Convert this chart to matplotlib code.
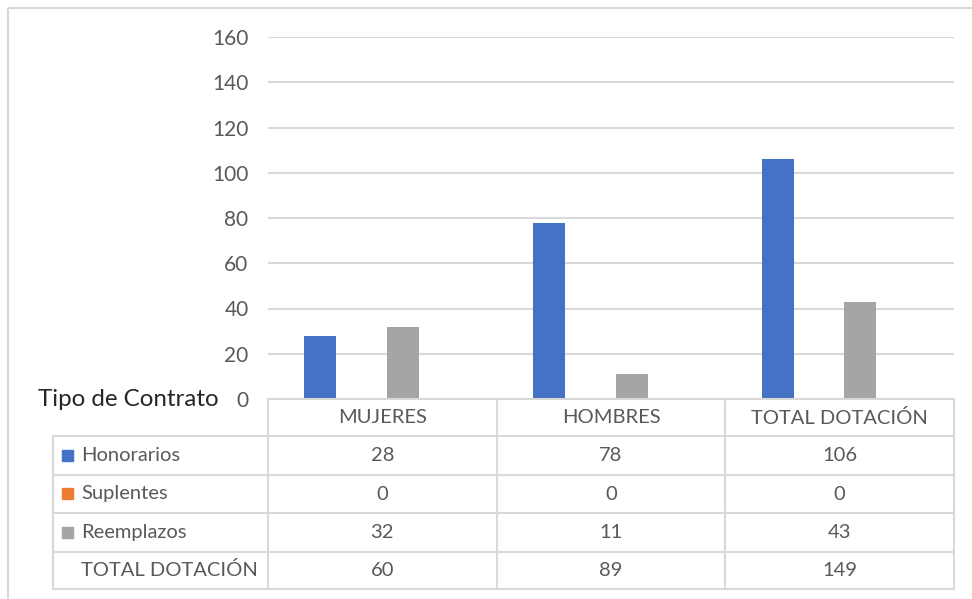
import matplotlib
matplotlib.use("Agg")
import matplotlib.pyplot as plt
from matplotlib.patches import Rectangle

plt.rcParams['font.family'] = ['Lato', 'DejaVu Sans']

categories = ["MUJERES", "HOMBRES", "TOTAL DOTACIÓN"]
series = ["Honorarios", "Suplentes", "Reemplazos", "TOTAL DOTACIÓN"]
honorarios = [28, 78, 106]
suplentes = [0, 0, 0]
reemplazos = [32, 11, 43]
total = [60, 89, 149]
values = [honorarios, suplentes, reemplazos, total]
colors = ["#4472C4", "#ED7D31", "#A5A5A5", "none"]
yticks = [0, 20, 40, 60, 80, 100, 120, 140, 160]

W, H = 972, 599
fig = plt.figure(figsize=(W / 100, H / 100), dpi=100)

# plot area in pixels
px_l, px_r, px_t, px_b = 268, 954, 37, 399
ax = fig.add_axes([px_l / W, 1 - px_b / H, (px_r - px_l) / W, (px_b - px_t) / H])

step = 0.181
bw = 0.14
for k, vals in enumerate(values):
    xs = [i + (k - 1.5) * step for i in range(len(categories))]
    if colors[k] == "none":
        ax.bar(xs, vals, bw, color="none", zorder=3)
    else:
        ax.bar(xs, vals, bw, color=colors[k], zorder=3)

ax.set_xlim(-0.5, len(categories) - 0.5)
ax.set_ylim(0, 160)
ax.set_yticks(yticks)
ax.yaxis.grid(True, color="#D9D9D9", linewidth=1.5)
ax.set_axisbelow(True)
for s in ax.spines.values():
    s.set_visible(False)
ax.tick_params(axis="y", length=0, pad=14, labelsize=15, labelcolor="#595959")
ax.tick_params(axis="x", bottom=False, labelbottom=False)

# overlay for the data table, pixel coordinates
ov = fig.add_axes([0, 0, 1, 1], zorder=5)
ov.set_xlim(0, W)
ov.set_ylim(H, 0)
ov.axis("off")
ov.patch.set_alpha(0)

# outer chart border
ov.add_patch(Rectangle((8, 8), W + 10, H + 10, fill=False, edgecolor="#D9D9D9", linewidth=1.5))

lc = "#D9D9D9"
tc = "#595959"
rows_y = [399, 436, 475, 513, 552, 589]
tab_l = 53
col_w = (px_r - px_l) / len(categories)
col_x = [px_l + i * col_w for i in range(len(categories) + 1)]

# header row (only over the category columns)
ov.plot([px_l, px_r], [rows_y[0], rows_y[0]], color=lc, lw=1.5)
for x in col_x:
    ov.plot([x, x], [rows_y[0], rows_y[-1]], color=lc, lw=1.5)
ov.plot([tab_l, tab_l], [rows_y[1], rows_y[-1]], color=lc, lw=1.5)
for y in rows_y[1:]:
    ov.plot([tab_l, px_r], [y, y], color=lc, lw=1.5)

fs = 14.5
for i, c in enumerate(categories):
    ov.text(col_x[i] + col_w / 2, (rows_y[0] + rows_y[1]) / 2, c, ha="center", va="center",
            fontsize=fs, color=tc)

for r, name in enumerate(series):
    yc = (rows_y[r + 1] + rows_y[r + 2]) / 2
    if colors[r] != "none":
        ov.add_patch(Rectangle((62, yc - 6), 11, 11, color=colors[r]))
    ov.text(81, yc, name, ha="left", va="center", fontsize=fs, color=tc)
    for i in range(len(categories)):
        ov.text(col_x[i] + col_w / 2, yc, str(values[r][i]), ha="center", va="center",
                fontsize=fs, color=tc)

ov.text(38, 400, "Tipo de Contrato", ha="left", va="center", fontsize=17.4, color="#262626")

fig.savefig("out.png", dpi=100)
